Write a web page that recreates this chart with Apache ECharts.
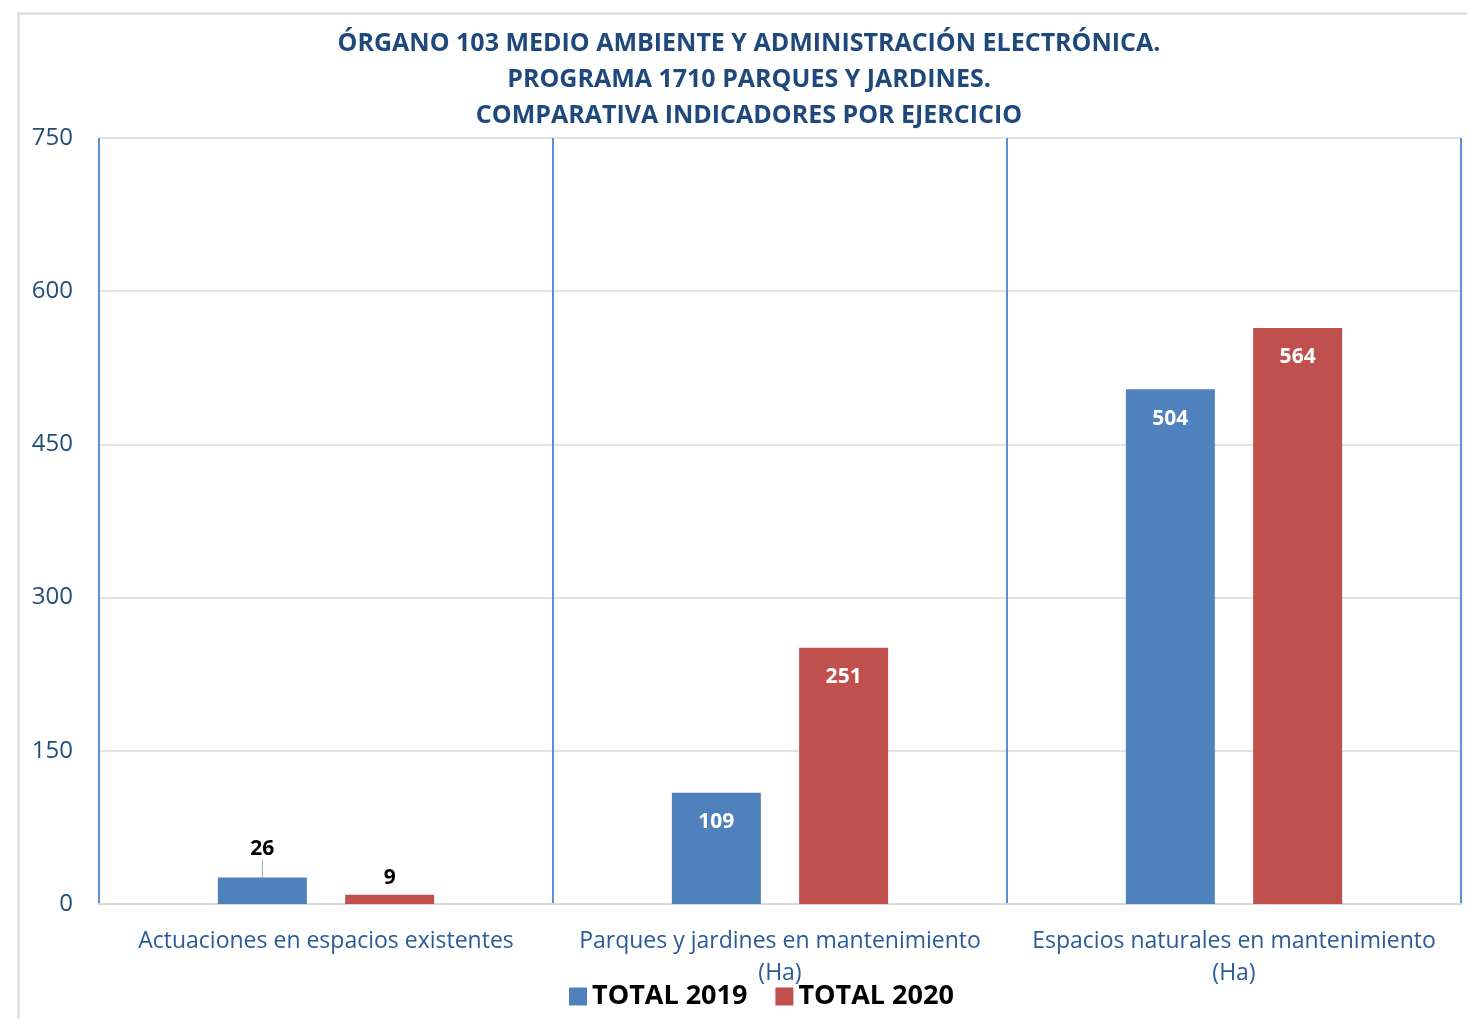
<!DOCTYPE html>
<html><head><meta charset="utf-8">
<script src="https://cdn.jsdelivr.net/npm/echarts@6/dist/echarts.min.js"></script>
<style>html,body{margin:0;padding:0;background:#fff}#c{width:1467px;height:1019px}</style>
</head><body><div id="c"></div>
<script>
const categories = ['Actuaciones en espacios existentes', 'Parques y jardines en mantenimiento\n(Ha)', 'Espacios naturales en mantenimiento\n(Ha)'];
const total2019 = [26, 109, 504];
const total2020 = [9, 251, 564];
const seriesNames = ['TOTAL 2019', 'TOTAL 2020'];
const titleLines = ['ÓRGANO 103 MEDIO AMBIENTE Y ADMINISTRACIÓN ELECTRÓNICA.', 'PROGRAMA 1710 PARQUES Y JARDINES.', 'COMPARATIVA INDICADORES POR EJERCICIO'];

const FONT = 'Open Sans';
function mkData(vals, isFirst) {
  return vals.map(v => {
    if (v < 60) {
      const d = { value: v, label: { position: 'top', color: '#000', distance: 6 } };
      if (isFirst) {
        d.labelLine = { show: true, lineStyle: { color: '#a6a6a6', width: 1 } };
      }
      return d;
    }
    return { value: v, label: { position: 'insideTop', color: '#fff', distance: 19 } };
  });
}
const chart = echarts.init(document.getElementById('c'));
chart.setOption({
  animation: false,
  textStyle: { fontFamily: FONT },
  title: {
    text: titleLines.join('\n'), left: 744, textAlign: 'center', top: 21,
    textStyle: { fontFamily: FONT, fontSize: 25, fontWeight: 'bold', color: '#1f497d', lineHeight: 36 }
  },
  graphic: [{ type: 'polyline', shape: { points: [[18.5, 1019], [18.5, 13.5], [1467, 13.5]] }, style: { stroke: '#d9d9d9', lineWidth: 2, fill: null } }],
  legend: {
    bottom: 4, left: 564, itemWidth: 18, itemHeight: 18, itemGap: 28, icon: 'rect',
    textStyle: { fontFamily: FONT, fontSize: 27, fontWeight: 'bold', color: '#000' },
    data: seriesNames
  },
  grid: { left: 99, right: 6, top: 138, bottom: 115, containLabel: false },
  xAxis: {
    type: 'category', data: categories,
    axisLine: { lineStyle: { color: '#d9d9d9', width: 2 } },
    axisTick: { show: false },
    splitLine: { show: true, lineStyle: { color: '#5b8fd8', width: 2 } },
    axisLabel: { fontFamily: FONT, fontSize: 23, color: '#2a5a9a', margin: 21, lineHeight: 32, interval: 0 }
  },
  yAxis: {
    type: 'value', min: 0, max: 750, interval: 150,
    axisLine: { show: false }, axisTick: { show: false },
    splitLine: { lineStyle: { color: '#d9d9d9', width: 1.5 } },
    axisLabel: { fontFamily: FONT, fontSize: 24, color: '#1f4e79', margin: 26 }
  },
  series: [
    { name: seriesNames[0], type: 'bar', data: mkData(total2019, true), barWidth: 89, barGap: '43%',
      itemStyle: { color: '#4f81bd' },
      labelLayout: function (p) { return p.dataIndex === 0 ? { dy: -12 } : {}; },
      label: { show: true, fontFamily: FONT, fontSize: 21, fontWeight: 'bold' } },
    { name: seriesNames[1], type: 'bar', data: mkData(total2020, false), barWidth: 89,
      itemStyle: { color: '#c0504d' },
      label: { show: true, fontFamily: FONT, fontSize: 21, fontWeight: 'bold' } }
  ]
});
</script></body></html>
